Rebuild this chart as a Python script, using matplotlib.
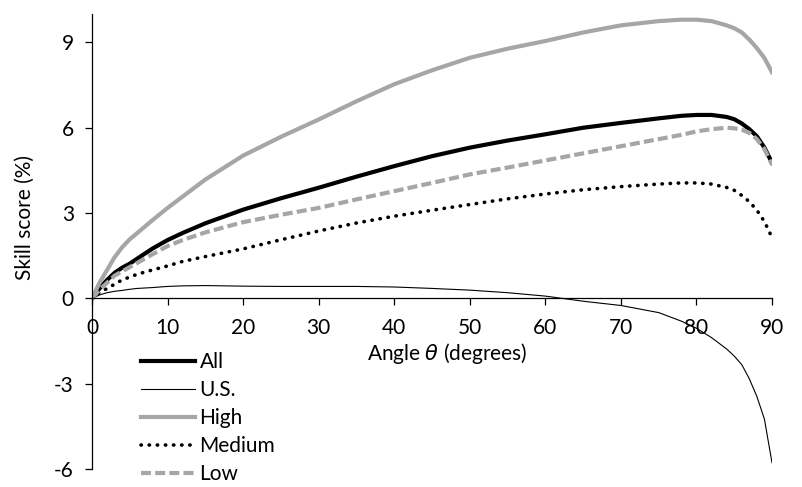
"""Skill score against angle theta for all stations, U.S., and the three groups."""
import matplotlib
matplotlib.use("Agg")
import matplotlib.pyplot as plt

# ----------------------------- data -----------------
theta = [0, 1, 2, 3, 4, 5, 6, 8, 10, 12, 15, 20, 25, 30, 35, 40, 45, 50, 55,
         60, 65, 70, 75, 78, 80, 82, 84, 85, 86, 87, 88, 89, 90]

all_ = [0, 0.35, 0.65, 0.9, 1.08, 1.22, 1.4, 1.75, 2.05, 2.3, 2.64, 3.12, 3.52,
        3.89, 4.28, 4.65, 5.0, 5.3, 5.55, 5.77, 6.0, 6.17, 6.33, 6.42, 6.45,
        6.45, 6.38, 6.3, 6.15, 5.95, 5.7, 5.3, 4.77]

us = [0, 0.12, 0.2, 0.25, 0.28, 0.32, 0.35, 0.38, 0.42, 0.44, 0.45, 0.43, 0.42,
      0.42, 0.42, 0.4, 0.35, 0.29, 0.2, 0.08, -0.1, -0.25, -0.5, -0.8, -1.05,
      -1.38, -1.78, -2.03, -2.33, -2.83, -3.45, -4.25, -5.78]

high = [0, 0.55, 1.0, 1.45, 1.8, 2.08, 2.3, 2.75, 3.18, 3.58, 4.18, 5.02, 5.68,
        6.29, 6.93, 7.53, 8.02, 8.46, 8.78, 9.05, 9.35, 9.6, 9.75, 9.8, 9.8,
        9.75, 9.6, 9.5, 9.35, 9.1, 8.8, 8.45, 7.95]

medium = [0, 0.2, 0.35, 0.5, 0.65, 0.75, 0.85, 1.0, 1.14, 1.3, 1.47, 1.74, 2.06,
          2.37, 2.65, 2.89, 3.1, 3.3, 3.5, 3.67, 3.82, 3.93, 4.02, 4.06, 4.06,
          4.02, 3.9, 3.8, 3.62, 3.4, 3.1, 2.7, 2.14]

low = [0, 0.3, 0.55, 0.8, 0.95, 1.1, 1.25, 1.55, 1.84, 2.05, 2.32, 2.68, 2.94,
       3.18, 3.48, 3.77, 4.06, 4.36, 4.6, 4.85, 5.1, 5.35, 5.6, 5.75, 5.87,
       5.95, 6.0, 5.98, 5.93, 5.82, 5.6, 5.25, 4.7]

x_ticks = [0, 10, 20, 30, 40, 50, 60, 70, 80, 90]
y_ticks = [-6, -3, 0, 3, 6, 9]

GREY = "#a6a6a6"
FONT = ["Lato", "DejaVu Sans"]

plt.rcParams["font.family"] = FONT
plt.rcParams["axes.unicode_minus"] = False
plt.rcParams["mathtext.fontset"] = "dejavusans"

fig = plt.figure(figsize=(8.03, 4.87), dpi=100)
ax = fig.add_axes([92 / 803, 18 / 487, 680 / 803, 455 / 487])

ax.plot(theta, all_, color="black", lw=3.0, label="All")
ax.plot(theta, us, color="black", lw=0.8, label="U.S.")
ax.plot(theta, high, color=GREY, lw=3.0, label="High")
ax.plot(theta, medium, color="black", lw=2.6, ls=(0, (0.1, 2.15)),
        dash_capstyle="round", label="Medium")
ax.plot(theta, low, color=GREY, lw=3.0, ls=(0, (2.4, 1.0)), label="Low")

ax.set_xlim(0, 90)
ax.set_ylim(-6, 10)
ax.set_xticks(x_ticks)
ax.set_yticks(y_ticks)
ax.set_yticklabels([str(t) for t in y_ticks])

for side in ("top", "right"):
    ax.spines[side].set_visible(False)
ax.spines["bottom"].set_position(("data", 0))
ax.spines["left"].set_bounds(-6, 10)
for side in ("left", "bottom"):
    ax.spines[side].set_linewidth(0.9)

ax.tick_params(axis="both", direction="out", length=5, width=0.9,
               labelsize=15, colors="black")
ax.tick_params(axis="x", pad=9)
ax.tick_params(axis="y", pad=8)

ax.text(47.0, -1.93, r"Angle $\theta$ (degrees)", ha="center", va="center",
        fontsize=15)
fig.text(25 / 803, 1 - 218 / 487, "Skill score (%)", rotation=90,
         ha="center", va="center", fontsize=15)

ax.legend(loc="upper left", bbox_to_anchor=(0.06, 0.275), frameon=False,
          fontsize=15, handlelength=2.6, handletextpad=0.2,
          labelspacing=0.38, borderaxespad=0)

fig.savefig("out.png", dpi=100)
